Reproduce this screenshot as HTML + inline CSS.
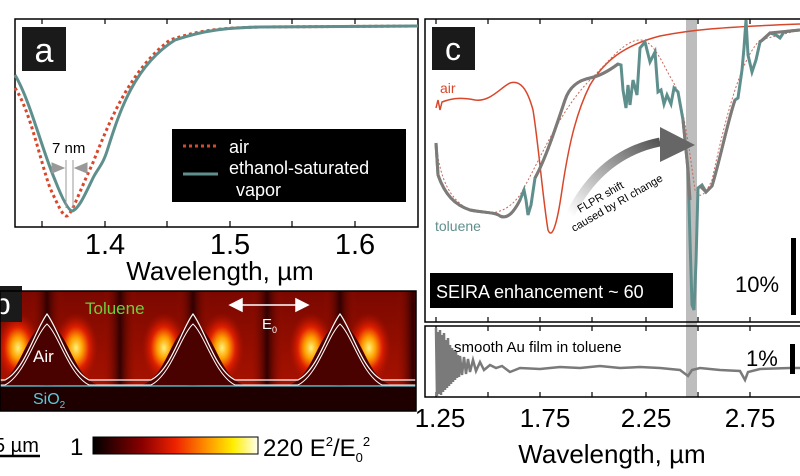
<!DOCTYPE html>
<html><head><meta charset="utf-8"><style>
html,body{margin:0;padding:0;background:#fff;}
svg{display:block;font-family:"Liberation Sans",sans-serif;}
</style></head><body>
<svg width="800" height="476" viewBox="0 0 800 476" xmlns="http://www.w3.org/2000/svg">
<defs>
<radialGradient id="glow" cx="0.5" cy="0.5" r="0.5">
<stop offset="0" stop-color="#fff27a"/><stop offset="0.3" stop-color="#ffa000"/><stop offset="0.6" stop-color="#e02000"/><stop offset="1" stop-color="#b01000" stop-opacity="0"/>
</radialGradient>
<linearGradient id="cbar" x1="0" x2="1"><stop offset="0" stop-color="#000"/><stop offset="0.3" stop-color="#8a0000"/><stop offset="0.5" stop-color="#ee2200"/><stop offset="0.7" stop-color="#ff9900"/><stop offset="0.85" stop-color="#ffee00"/><stop offset="1" stop-color="#fffff0"/></linearGradient>
<linearGradient id="arr" x1="0" y1="1" x2="1" y2="0"><stop offset="0" stop-color="#fff"/><stop offset="1" stop-color="#555"/></linearGradient>
<linearGradient id="vband" x1="0" x2="1"><stop offset="0" stop-color="#a01000" stop-opacity="0"/><stop offset="0.5" stop-color="#300000"/><stop offset="1" stop-color="#a01000" stop-opacity="0"/></linearGradient>
<linearGradient id="vfade" x1="0" y1="0" x2="0" y2="1"><stop offset="0" stop-color="#7a0800"/><stop offset="1" stop-color="#a81200"/></linearGradient>
<clipPath id="cpc"><rect x="425" y="19" width="375" height="303"/></clipPath>
<clipPath id="cpb"><rect x="0" y="291" width="416" height="120"/></clipPath>
</defs>

<!-- Panel a -->
<rect x="15" y="19" width="403" height="208" fill="none" stroke="#000" stroke-width="1.5"/>
<g stroke="#000" stroke-width="1.2">
<line x1="42" y1="19" x2="42" y2="24"/><line x1="105" y1="19" x2="105" y2="24"/><line x1="167" y1="19" x2="167" y2="24"/><line x1="230" y1="19" x2="230" y2="24"/><line x1="292" y1="19" x2="292" y2="24"/><line x1="355" y1="19" x2="355" y2="24"/>
<line x1="42" y1="227" x2="42" y2="221"/><line x1="105" y1="227" x2="105" y2="221"/><line x1="167" y1="227" x2="167" y2="221"/><line x1="230" y1="227" x2="230" y2="221"/><line x1="292" y1="227" x2="292" y2="221"/><line x1="355" y1="227" x2="355" y2="221"/>
</g>
<path d="M15,88 C30,110 40,160 50,188 C58,205 63,217 67,216 C72,214 80,190 92,165 C110,120 130,70 170,40 C200,30 220,28 260,27 L418,26" fill="none" stroke="#d9472b" stroke-width="3" stroke-dasharray="3,3"/>
<path d="M15,75 C30,100 42,150 55,180 C62,198 68,210 72,211 C78,210 85,195 93,178 C98,168 103,165 108,148 C120,110 135,65 175,40 C205,30 225,28 260,27 L418,26" fill="none" stroke="#5f8f8d" stroke-width="3"/>
<g stroke="#999" stroke-width="1" fill="#999">
<line x1="66" y1="160" x2="66" y2="208"/><line x1="73" y1="160" x2="73" y2="208"/>
<path d="M52,163 L64,168 L52,173Z"/><path d="M87,163 L75,168 L87,173Z"/>
</g>
<text x="52" y="153" font-size="15">7 nm</text>
<rect x="172" y="129" width="234" height="73" fill="#000"/>
<line x1="183" y1="146" x2="218" y2="146" stroke="#d9472b" stroke-width="3" stroke-dasharray="3,3"/>
<line x1="183" y1="174" x2="218" y2="174" stroke="#5f8f8d" stroke-width="3"/>
<text x="229" y="153" font-size="18" fill="#fff">air</text>
<text x="229" y="174" font-size="18" fill="#fff">ethanol-saturated</text>
<text x="236" y="196" font-size="18" fill="#fff">vapor</text>
<rect x="22" y="27" width="44" height="44" fill="#1a1a1a"/>
<text x="44" y="62" font-size="34" fill="#fff" text-anchor="middle">a</text>
<text x="105" y="254" font-size="29" text-anchor="middle">1.4</text>
<text x="230" y="254" font-size="29" text-anchor="middle">1.5</text>
<text x="355" y="254" font-size="29" text-anchor="middle">1.6</text>
<text x="220" y="280" font-size="26" text-anchor="middle">Wavelength, µm</text>

<!-- Panel b -->
<g clip-path="url(#cpb)">
<rect x="0" y="291" width="416" height="95" fill="url(#vfade)"/>
<rect x="30" y="291" width="34" height="95" fill="url(#vband)"/>
<rect x="103" y="291" width="34" height="95" fill="url(#vband)"/>
<rect x="176" y="291" width="34" height="95" fill="url(#vband)"/>
<rect x="250" y="291" width="34" height="95" fill="url(#vband)"/>
<rect x="323" y="291" width="34" height="95" fill="url(#vband)"/>
<rect x="396" y="291" width="34" height="95" fill="url(#vband)"/>
<g fill="url(#glow)">
<ellipse cx="18" cy="348" rx="22" ry="35"/><ellipse cx="76" cy="348" rx="22" ry="35"/>
<ellipse cx="164" cy="348" rx="22" ry="35"/><ellipse cx="222" cy="348" rx="22" ry="35"/>
<ellipse cx="311" cy="348" rx="22" ry="35"/><ellipse cx="369" cy="348" rx="22" ry="35"/>
</g>
<g fill="#4a0200">
<path d="M-5,385 C20,380 25,330 47,322 C69,330 74,380 99,385Z"/>
<path d="M141,385 C166,380 171,330 193,322 C215,330 220,380 245,385Z"/>
<path d="M288,385 C313,380 318,330 340,322 C362,330 367,380 392,385Z"/>
</g>
<rect x="0" y="386" width="416" height="25" fill="#1e0000"/>
<path d="M0,380 L5,380 C25,370 35,330 47,314 C59,330 69,370 89,380 L151,380 C171,370 181,330 193,314 C205,330 215,370 235,380 L298,380 C318,370 328,330 340,314 C352,330 362,370 382,380 L416,380" fill="none" stroke="#fff" stroke-width="1.2"/>
<path d="M0,385 L5,385 C25,375 35,335 47,324 C59,335 69,375 89,385 L151,385 C171,375 181,335 193,324 C205,335 215,375 235,385 L298,385 C318,375 328,335 340,324 C352,335 362,375 382,385 L416,385" fill="none" stroke="#fff" stroke-width="1"/>
<line x1="0" y1="386" x2="416" y2="386" stroke="#5cc8d8" stroke-width="1.2"/>
</g>
<rect x="0" y="286" width="22" height="36" fill="#1a1a1a"/>
<text x="-6" y="314" font-size="30" fill="#fff">b</text>
<text x="85" y="314" font-size="17" fill="#6fcf3f">Toluene</text>
<text x="33" y="362" font-size="17" fill="#fff">Air</text>
<text x="33" y="404" font-size="16" fill="#5cc8d8">SiO<tspan font-size="10" dy="4">2</tspan></text>
<g stroke="#fff" stroke-width="1.5" fill="#fff">
<line x1="238" y1="305" x2="298" y2="305"/><path d="M230,305 L242,299 L242,311Z"/><path d="M308,305 L296,299 L296,311Z"/>
</g>
<text x="262" y="329" font-size="15" fill="#fff">E<tspan font-size="9" dy="4">0</tspan></text>
<rect x="0" y="291" width="416" height="120" fill="none" stroke="#000" stroke-width="1.5"/>
<text x="-6" y="452" font-size="20">5 µm</text>
<line x1="0" y1="456" x2="40" y2="456" stroke="#000" stroke-width="2.5"/>
<text x="70" y="455" font-size="24">1</text>
<rect x="93" y="437" width="165" height="17" fill="url(#cbar)" stroke="#000" stroke-width="1"/>
<text x="263" y="456" font-size="24">220 E<tspan font-size="13" dy="-10">2</tspan><tspan dy="10">/E</tspan><tspan font-size="13" dy="6">0</tspan><tspan font-size="13" dy="-16">2</tspan></text>

<!-- Panel c -->
<rect x="686" y="19" width="11" height="378" fill="#bdbdbd"/>
<g clip-path="url(#cpc)">
<path d="M436,108 L438,100 L440,110 L442,102 C455,97 465,98 475,100 C490,102 500,88 510,83 C520,80 527,88 533,110 C538,140 543,200 548,230 C552,240 557,225 562,190 C568,150 575,115 590,85 C605,60 625,45 660,36 C690,30 720,27 800,24" fill="none" stroke="#d9472b" stroke-width="1.5"/>
<path d="M436,143 C440,180 450,200 470,210 C490,215 505,215 520,195 C540,160 560,110 590,80 C610,60 625,40 640,40 C655,40 665,70 675,85 C685,110 692,170 695,190 C700,200 705,195 712,180 C725,120 740,60 760,40 L800,30" fill="none" stroke="#c8685a" stroke-width="1" stroke-dasharray="2,2"/>
<path d="M436,143 L438,175 C445,195 455,205 470,210 C485,213 495,212 500,216 C508,220 515,210 520,200 L524,190 L526,200 L528,215 L531,205 L535,178 C545,160 555,130 565,100 C570,85 580,80 590,78 C600,76 610,70 618,64 L621,65 L623,90 L626,108 L628,85 L630,105 L633,80 L637,95 L640,48 L645,42 L650,62 L655,52 L658,92 L661,90 L664,104 L667,95 L671,104 L674,88 L678,92 L683,120 L688,170 L690,240 L692,305 L694,310 L696,262 L698,188 L702,185 L706,192 L712,186 C720,160 728,120 735,100 L738,98 L742,70 L744,48 L746,20 L748,55 L752,72 L756,60 L760,42 L765,38 L770,33 L776,35 L780,38 L784,32 L790,31 L800,30" fill="none" stroke="#5f8f8d" stroke-width="3"/>
<path d="M436,143 L438,175 C445,195 455,205 470,210 C485,213 495,212 500,216 C508,220 515,210 520,200 M535,178 C545,160 555,130 565,100 C570,85 580,80 590,78 C600,76 610,70 618,64 M683,120 L688,170 L690,200 M700,186 L706,192 L712,186 C720,160 728,120 735,100 M760,42 L770,33 L800,30" fill="none" stroke="#7e7a78" stroke-width="3"/>
</g>
<path d="M570,215 C590,175 620,150 660,142" fill="none" stroke="url(#arr)" stroke-width="9"/>
<path d="M660,127 L695,145 L660,162Z" fill="#666"/>
<text transform="translate(580,213) rotate(-30)" font-size="11">FLPR shift</text>
<text transform="translate(574,232) rotate(-30)" font-size="11">caused by RI change</text>
<rect x="425" y="19" width="380" height="303" fill="none" stroke="#000" stroke-width="1.5"/>
<rect x="425" y="326" width="380" height="71" fill="none" stroke="#000" stroke-width="1.5"/>
<g stroke="#000" stroke-width="1.2">
<line x1="436" y1="19" x2="436" y2="24"/><line x1="488" y1="19" x2="488" y2="24"/><line x1="540" y1="19" x2="540" y2="24"/><line x1="592" y1="19" x2="592" y2="24"/><line x1="646" y1="19" x2="646" y2="24"/><line x1="698" y1="19" x2="698" y2="24"/><line x1="750" y1="19" x2="750" y2="24"/>
<line x1="436" y1="322" x2="436" y2="317"/><line x1="488" y1="322" x2="488" y2="317"/><line x1="540" y1="322" x2="540" y2="317"/><line x1="592" y1="322" x2="592" y2="317"/><line x1="646" y1="322" x2="646" y2="317"/><line x1="698" y1="322" x2="698" y2="317"/><line x1="750" y1="322" x2="750" y2="317"/>
<line x1="436" y1="326" x2="436" y2="331"/><line x1="488" y1="326" x2="488" y2="331"/><line x1="540" y1="326" x2="540" y2="331"/><line x1="592" y1="326" x2="592" y2="331"/><line x1="646" y1="326" x2="646" y2="331"/><line x1="698" y1="326" x2="698" y2="331"/><line x1="750" y1="326" x2="750" y2="331"/>
<line x1="436" y1="397" x2="436" y2="392"/><line x1="488" y1="397" x2="488" y2="392"/><line x1="540" y1="397" x2="540" y2="392"/><line x1="592" y1="397" x2="592" y2="392"/><line x1="646" y1="397" x2="646" y2="392"/><line x1="698" y1="397" x2="698" y2="392"/><line x1="750" y1="397" x2="750" y2="392"/>
</g>
<path d="M436,328 L437,396 L438,332 L439,394 L440,330 L441,395 L442,335 L443,392 L444,333 L445,390 L446,340 L447,388 L448,338 L449,386 L450,345 L451,384 L452,348 L453,382 L454,350 L455,380 L456,352 L457,378 L458,355 L459,377 L460,356 L462,375 L464,357 L466,374 L468,359 L470,372 L473,360 L476,371 L480,362 L484,370 L490,365 L496,368 L502,366 L510,372 L520,368 L540,369 L560,367 L580,368 L600,366 L620,368 L640,367 L660,368 L680,370 L688,376 L692,370 L700,368 L720,370 L740,371 L745,380 L748,372 L760,369 L790,368 L800,368" fill="none" stroke="#7a7a7a" stroke-width="2.5"/>
<rect x="432" y="27" width="43" height="43" fill="#1a1a1a"/>
<text x="453" y="60" font-size="32" fill="#fff" text-anchor="middle">c</text>
<text x="440" y="93" font-size="14" fill="#d9472b">air</text>
<text x="435" y="231" font-size="14" fill="#5f8f8d">toluene</text>
<rect x="430" y="273" width="243" height="35" fill="#000"/>
<text x="436" y="298" font-size="18" fill="#fff">SEIRA enhancement ~ 60</text>
<text x="735" y="292" font-size="22">10%</text>
<rect x="791" y="238" width="5" height="77" fill="#000"/>
<text x="454" y="352" font-size="15">smooth Au film in toluene</text>
<text x="746" y="366" font-size="22">1%</text>
<rect x="790" y="344" width="5" height="30" fill="#000"/>
<text x="440" y="427" font-size="26" text-anchor="middle">1.25</text>
<text x="545" y="427" font-size="26" text-anchor="middle">1.75</text>
<text x="646" y="427" font-size="26" text-anchor="middle">2.25</text>
<text x="750" y="427" font-size="26" text-anchor="middle">2.75</text>
<text x="612" y="463" font-size="26" text-anchor="middle">Wavelength, µm</text>
</svg>
</body></html>
